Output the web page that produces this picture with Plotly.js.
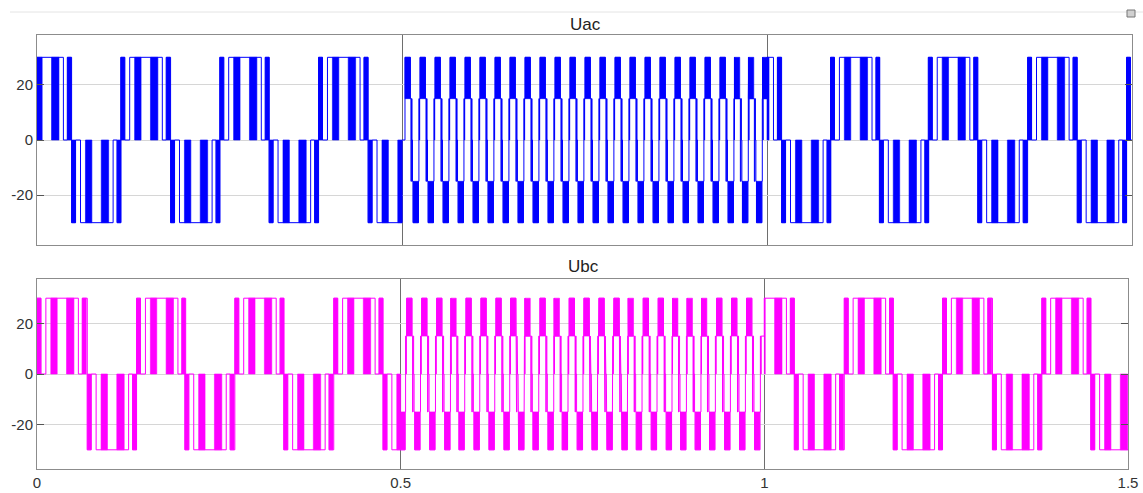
<!DOCTYPE html>
<html><head><meta charset="utf-8">
<script src="https://cdn.plot.ly/plotly-3.0.1.min.js"></script>
<style>html,body{margin:0;padding:0;background:#fff;} #chart{width:1143px;height:493px;}</style>
</head><body><div id="chart"></div>
<script>
// ---------------- data ----------------
const xTickValues = [0, 0.5, 1, 1.5];
const xTickLabels = ['0', '0.5', '1', '1.5'];
const yTickValues = [-20, 0, 20];
const yTickLabels = ['-20', '0', '20'];
const plotTitles = ['Uac', 'Ubc'];
const segmentBounds = [0, 0.5, 1.0, 1.5];   // low-freq | high-freq | low-freq
const dcLevel = 30;

// low-frequency mode: one half cycle pattern (fraction of half cycle, level factor)
const lowHalfDuration = 0.0677;
const lowHalfSteps = [[0, 1], [0.08, 0], [0.18, 1], [0.84, 0], [0.92, 1]];
const lowHalfSolid = [[0, 0.08], [0.28, 0.41], [0.60, 0.75], [0.92, 1.0]];

const uacPosHalfStarts = [-0.0207, 0.1148, 0.2504, 0.3857, 0.952, 1.087, 1.221, 1.357, 1.4925];
const uacNegHalfStarts = [0.0474, 0.183, 0.318, 0.4536, 1.020, 1.154, 1.2887, 1.425];
const ubcPosHalfStarts = [0.0, 0.1369, 0.272, 0.408, 0.9735, 1.1099, 1.245, 1.3815];
const ubcNegHalfStarts = [0.0691, 0.2033, 0.3393, 0.4757, 1.0412, 1.1772, 1.3136, 1.4488];

// high-frequency mode: one cycle pattern (fraction of cycle, level)
const highCycleDuration = 0.0205;
const highCycleSteps = [[0, 30], [0.36, 15], [0.40, -15], [0.43, 15], [0.47, 0], [0.50, -15],
                        [0.54, -30], [0.90, -15], [0.93, 15], [0.96, 0], [0.98, 15]];
const highCycleSolid = [[0, 0.36, 15, 30], [0.54, 0.90, -15, -30]];

const uacHighCycleStarts = [0.5041, 0.5247, 0.5452, 0.5658, 0.5863, 0.6068, 0.6274, 0.6479, 0.6685,
  0.6890, 0.7096, 0.7301, 0.7507, 0.7712, 0.7918, 0.8123, 0.8329, 0.8534, 0.8740, 0.8945, 0.9151,
  0.9356, 0.9553, 0.9745, 0.9940];
const ubcHighCycleStarts = [0.4877, 0.5082, 0.5288, 0.5494, 0.5690, 0.5897, 0.6103, 0.6309, 0.6511,
  0.6708, 0.6914, 0.7110, 0.7316, 0.7519, 0.7725, 0.7931, 0.8128, 0.8334, 0.8540, 0.8738, 0.8938,
  0.9136, 0.9343, 0.9549, 0.9755];

const seriesColors = ['#0000ff', '#ff00ff'];

// ---------------- build ----------------
function lowEvents(pos, neg) {
  const ev = [], rects = [];
  [[pos, 1], [neg, -1]].forEach(([starts, sg]) => {
    starts.forEach(s => {
      lowHalfSteps.forEach(([f, k]) => ev.push([s + f * lowHalfDuration, sg * k * dcLevel]));
      lowHalfSolid.forEach(([a, b]) => rects.push([s + a * lowHalfDuration, s + b * lowHalfDuration, 0, sg * dcLevel]));
    });
  });
  return {ev, rects};
}
function highEvents(starts) {
  const ev = [], rects = [];
  starts.forEach(s => {
    highCycleSteps.forEach(([f, lv]) => ev.push([s + f * highCycleDuration, lv]));
    highCycleSolid.forEach(([a, b, y0, y1]) => rects.push([s + a * highCycleDuration, s + b * highCycleDuration, y0, y1]));
  });
  return {ev, rects};
}
function buildSignal(segments) {
  const xs = [], ys = [], rx = [], ry = [];
  segments.forEach(seg => {
    const ev = seg.ev.slice().sort((a, b) => a[0] - b[0]);
    let lvl = 0;
    ev.forEach(e => { if (e[0] <= seg.lo) lvl = e[1]; });
    xs.push(seg.lo); ys.push(lvl);
    ev.forEach(e => {
      if (e[0] > seg.lo && e[0] < seg.hi) { xs.push(e[0], e[0]); ys.push(lvl, e[1]); lvl = e[1]; }
    });
    xs.push(seg.hi); ys.push(lvl);
    seg.rects.forEach(r => {
      const a = Math.max(r[0], seg.lo), b = Math.min(r[1], seg.hi);
      if (b > a) { rx.push(a, a, b, b, a, null); ry.push(r[2], r[3], r[3], r[2], r[2], null); }
    });
  });
  return {xs, ys, rx, ry};
}
function signalFor(pos, neg, high) {
  const lo = lowEvents(pos, neg), hi = highEvents(high);
  return buildSignal([
    {lo: segmentBounds[0], hi: segmentBounds[1], ev: lo.ev, rects: lo.rects},
    {lo: segmentBounds[1], hi: segmentBounds[2], ev: hi.ev, rects: hi.rects},
    {lo: segmentBounds[2], hi: segmentBounds[3], ev: lo.ev, rects: lo.rects}
  ]);
}
const sigs = [
  signalFor(uacPosHalfStarts, uacNegHalfStarts, uacHighCycleStarts),
  signalFor(ubcPosHalfStarts, ubcNegHalfStarts, ubcHighCycleStarts)
];

const traces = [];
sigs.forEach((s, i) => {
  const xa = i === 0 ? 'x' : 'x2', ya = i === 0 ? 'y' : 'y2';
  traces.push({x: s.rx, y: s.ry, xaxis: xa, yaxis: ya, type: 'scatter', mode: 'lines', fill: 'toself',
    fillcolor: seriesColors[i], line: {color: seriesColors[i], width: 0.6}, hoverinfo: 'skip', connectgaps: false});
  traces.push({x: s.xs, y: s.ys, xaxis: xa, yaxis: ya, type: 'scatter', mode: 'lines',
    line: {color: seriesColors[i], width: 1}, hoverinfo: 'skip'});
});

const W = 1143, H = 493;
const font = {family: 'Liberation Sans, Arial, sans-serif', size: 15, color: '#333'};
function xax(l, r, showLabels, anchor) {
  return {domain: [l / W, r / W], range: [segmentBounds[0], segmentBounds[3]], anchor,
    tickvals: xTickValues, ticktext: xTickLabels, showticklabels: showLabels, tickfont: font,
    showgrid: true, gridcolor: '#6e6e6e', gridwidth: 1, zeroline: false, ticks: '',
    showline: true, mirror: true, linecolor: '#8c8c8c', linewidth: 1, fixedrange: true};
}
function yax(top, bot, rng, anchor) {
  return {domain: [1 - bot / H, 1 - top / H], range: rng, anchor,
    tickvals: yTickValues, ticktext: yTickLabels, tickfont: font,
    showgrid: true, gridcolor: '#d6d6d6', gridwidth: 1, zeroline: false,
    ticks: 'inside', ticklen: 7, tickcolor: '#555', showline: true, mirror: 'ticks',
    linecolor: '#8c8c8c', linewidth: 1, fixedrange: true};
}
const layout = {
  width: W, height: H, margin: {l: 0, r: 0, t: 0, b: 0},
  paper_bgcolor: '#ffffff', plot_bgcolor: '#ffffff', showlegend: false,
  xaxis: xax(37, 1132, false, 'y'),
  yaxis: yax(35, 245, [-38.1, 38.1], 'x'),
  xaxis2: xax(37, 1128, true, 'y2'),
  yaxis2: yax(279, 469, [-37.6, 37.6], 'x2'),
  annotations: [
    {text: plotTitles[0], xref: 'paper', yref: 'paper', x: 585 / W, y: 1 - 24 / H, showarrow: false,
     xanchor: 'center', yanchor: 'middle', font: {family: font.family, size: 17, color: '#222'}},
    {text: plotTitles[1], xref: 'paper', yref: 'paper', x: 583 / W, y: 1 - 266 / H, showarrow: false,
     xanchor: 'center', yanchor: 'middle', font: {family: font.family, size: 17, color: '#222'}}
  ],
  shapes: [
    {type: 'line', xref: 'paper', yref: 'paper', x0: 10 / W, x1: 1, y0: 1 - 12 / H, y1: 1 - 12 / H,
     line: {color: '#e4e4e4', width: 1}},
    {type: 'rect', xref: 'paper', yref: 'paper', x0: 1127 / W, x1: 1135 / W, y0: 1 - 17 / H, y1: 1 - 10 / H,
     fillcolor: '#d0d0d0', line: {color: '#777', width: 1}}
  ]
};
Plotly.newPlot('chart', traces, layout, {displayModeBar: false, staticPlot: true});
</script></body></html>
